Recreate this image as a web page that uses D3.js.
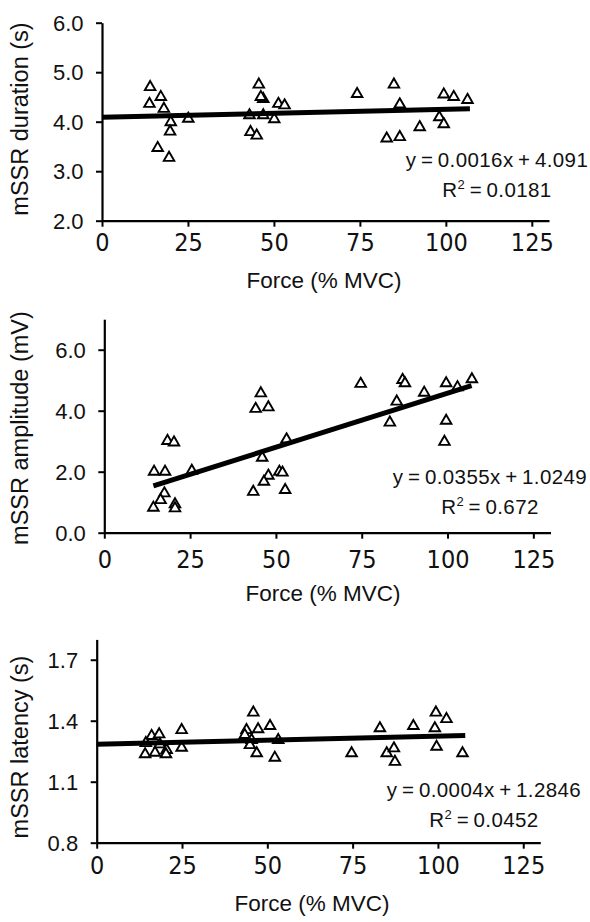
<!DOCTYPE html>
<html>
<head>
<meta charset="utf-8">
<script src="https://cdn.jsdelivr.net/npm/d3@7"></script>
<style>
  body { margin: 0; background: #fff; }
  svg { display: block; }
  text { fill: #111; }
</style>
</head>
<body>
<div class="svg-container"></div>
<script>
// data: [force %MVC, value]
const durationPoints = [
  [14.0, 4.70], [13.8, 4.36], [17.1, 4.50], [18.0, 4.26], [20.0, 3.99], [19.8, 3.80],
  [16.2, 3.47], [19.5, 3.27], [25.1, 4.06], [45.6, 4.75], [46.9, 4.46], [46.2, 4.50],
  [43.2, 3.79], [45.0, 3.72], [42.9, 4.13], [46.9, 4.13], [50.1, 4.05], [51.3, 4.36],
  [53.1, 4.33], [74.2, 4.56], [84.9, 4.75], [86.6, 4.35], [82.8, 3.66], [86.6, 3.69],
  [92.4, 3.89], [98.1, 4.09], [99.4, 3.95], [99.4, 4.55], [102.3, 4.50], [106.3, 4.44]
];
const amplitudePoints = [
  [45.6, 4.57], [44.1, 4.06], [47.8, 4.11], [18.4, 3.01], [20.3, 2.96], [14.5, 2.00],
  [17.7, 2.00], [25.5, 2.03], [17.5, 1.29], [16.4, 1.07], [14.3, 0.82], [20.6, 0.93],
  [20.6, 0.80], [46.0, 2.46], [47.8, 1.87], [46.5, 1.67], [51.0, 2.00], [51.9, 1.97],
  [43.4, 1.34], [52.7, 1.40], [53.1, 3.06], [74.7, 4.88], [86.9, 5.01], [87.6, 4.90],
  [85.2, 4.30], [83.2, 3.61], [93.2, 4.59], [99.6, 4.90], [102.9, 4.77], [107.1, 5.03],
  [99.6, 3.67], [99.1, 2.98]
];
const latencyPoints = [
  [45.9, 1.440], [43.9, 1.354], [47.3, 1.358], [50.8, 1.374], [43.4, 1.330], [45.4, 1.305],
  [44.9, 1.280], [46.9, 1.240], [53.2, 1.305], [52.2, 1.218], [24.9, 1.354], [24.9, 1.267],
  [16.1, 1.325], [18.3, 1.333], [14.4, 1.290], [14.2, 1.235], [17.1, 1.243], [18.5, 1.284],
  [20.5, 1.256], [20.3, 1.235], [74.7, 1.240], [83.0, 1.363], [85.0, 1.240], [87.1, 1.264],
  [87.4, 1.198], [92.8, 1.374], [99.4, 1.440], [102.5, 1.408], [99.1, 1.363], [99.6, 1.272],
  [107.2, 1.240]
];

// trendlines: [slope, intercept, x start, x end]
const durationFit = [0.0016, 4.091, 0, 107];
const amplitudeFit = [0.0355, 1.0249, 14.3, 107];
const latencyFit = [0.0004, 1.2846, 0, 108];

const xTicks = [0, 25, 50, 75, 100, 125];
const durationTicks = [2, 3, 4, 5, 6];
const amplitudeTicks = [0, 2, 4, 6];
const latencyTicks = [0.8, 1.1, 1.4, 1.7];

const yTitles = ["mSSR duration (s)", "mSSR amplitude (mV)", "mSSR latency (s)"];
const eqLines = [
  ["y = 0.0016x + 4.091", "0.0181"],
  ["y = 0.0355x + 1.0249", "0.672"],
  ["y = 0.0004x + 1.2846", "0.0452"]
];
const xTitle = "Force (% MVC)";

// layout of the three panels (pixels)
const panels = [
  {pts: durationPoints, fit: durationFit, yDom: [2, 6], yTicks: durationTicks,
   x0: 102, x1: 549, yb: 220.7, yt: 22.7, tickBase: 251.5, titleBase: 288, titleX: 324, yTitleY: 119,
   eqX: 497, eqY: 166.5},
  {pts: amplitudePoints, fit: amplitudeFit, yDom: [0, 7], yTicks: amplitudeTicks,
   x0: 104.3, x1: 550.5, yb: 532.7, yt: 319.2, tickBase: 568, titleBase: 601, titleX: 323, yTitleY: 428,
   eqX: 490, eqY: 483.5},
  {pts: latencyPoints, fit: latencyFit, yDom: [0.8, 1.8], yTicks: latencyTicks,
   x0: 96.7, x1: 540.3, yb: 842.7, yt: 639.4, tickBase: 874, titleBase: 911, titleX: 312, yTitleY: 747,
   eqX: 484, eqY: 796.5}
];

const w = 590, h = 922;
const svg = d3.select(".svg-container").append("svg")
  .attr("width", w).attr("height", h)
  .attr("viewBox", `0 0 ${w} ${h}`);

const fmt = d3.format(".1f");
const tri = d3.symbol().type(d3.symbolTriangle).size(48);
const line = d3.line();

panels.forEach((p, i) => {
  const x = d3.scaleLinear().domain([0, 130]).range([p.x0, p.x1]);
  const y = d3.scaleLinear().domain(p.yDom).range([p.yb, p.yt]);
  const g = svg.append("g");

  // y axis
  const ya = g.append("g").attr("transform", `translate(${p.x0},0)`)
    .call(d3.axisLeft(y).tickValues(p.yTicks).tickSize(6).tickSizeOuter(0).tickFormat(fmt));
  ya.selectAll("text").attr("x", -18.5).attr("dy", null).attr("y", 7.5)
    .style("font-family", "'Liberation Sans', Arial, sans-serif").style("font-size", "22px");

  // x axis
  const xa = g.append("g").attr("transform", `translate(0,${p.yb})`)
    .call(d3.axisBottom(x).tickValues(xTicks).tickSize(6).tickSizeOuter(0));
  xa.selectAll("text").attr("dy", null).attr("y", p.tickBase - p.yb)
    .style("font-family", "'Liberation Sans Narrow', 'DejaVu Sans Condensed', sans-serif")
    .style("font-size", "25px");

  g.selectAll(".domain").attr("stroke", "#000").attr("stroke-width", 2.2);
  g.selectAll(".tick line").attr("stroke", "#000").attr("stroke-width", 2);
  g.selectAll(".tick text").attr("fill", "#111");

  // axis titles
  g.append("text")
    .attr("x", p.titleX).attr("y", p.titleBase)
    .attr("text-anchor", "middle")
    .style("font-family", "'Liberation Sans', Arial, sans-serif").style("font-size", "22.5px")
    .text(xTitle);
  g.append("text")
    .attr("transform", `translate(28,${p.yTitleY}) rotate(-90)`)
    .attr("text-anchor", "middle")
    .style("font-family", "'Liberation Sans', Arial, sans-serif").style("font-size", "23.5px")
    .text(yTitles[i]);

  // points
  g.selectAll("path.pt").data(p.pts).enter().append("path")
    .attr("class", "pt")
    .attr("d", tri)
    .attr("transform", d => `translate(${x(d[0])},${y(d[1])})`)
    .attr("fill", "#fff").attr("stroke", "#000").attr("stroke-width", 1.9);

  // trendline on top
  const [m, b, xa0, xa1] = p.fit;
  g.append("path")
    .attr("d", line([[x(xa0), y(m * xa0 + b)], [x(xa1), y(m * xa1 + b)]]))
    .attr("stroke", "#000").attr("stroke-width", 5).attr("fill", "none");

  // equation
  const eq = g.append("g").style("font-family", "'Liberation Sans', Arial, sans-serif")
    .style("font-size", "20.5px").style("letter-spacing", "0.4px");
  eq.append("text").attr("x", p.eqX).attr("y", p.eqY).attr("text-anchor", "middle")
    .text(eqLines[i][0].replace(/ /g, "\u2009"));
  const r2 = eq.append("text").attr("x", p.eqX).attr("y", p.eqY + 30).attr("text-anchor", "middle");
  r2.append("tspan").text("R");
  r2.append("tspan").attr("dy", -8).style("font-size", "13px").text("2");
  r2.append("tspan").attr("dy", 8).text("\u2009=\u2009" + eqLines[i][1]);
});
</script>
</body>
</html>
